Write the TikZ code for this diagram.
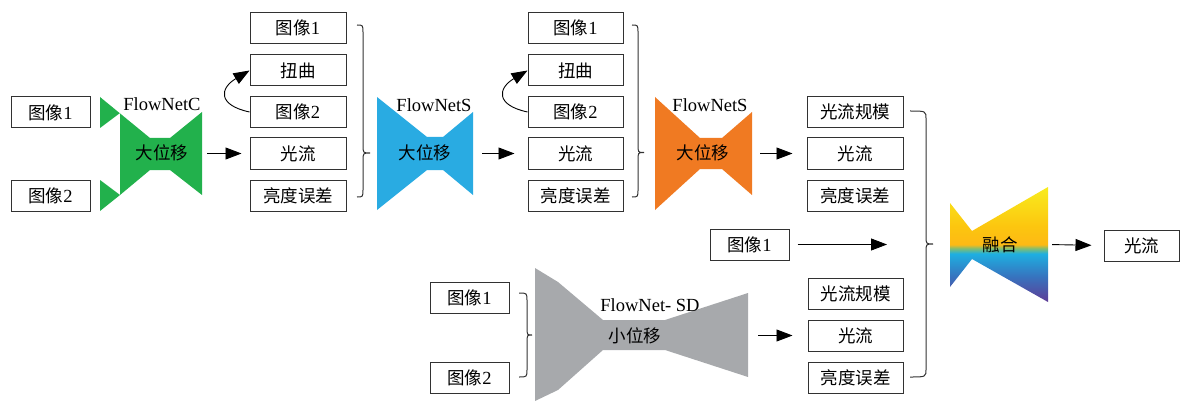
\documentclass[tikz,border=0pt]{standalone}
\usepackage{fontspec}
\setmainfont{Liberation Serif}
\newfontfamily\cjk{Noto Sans CJK SC}
\usetikzlibrary{arrows.meta}
\newcommand\zh[1]{{\cjk\fontsize{17.5}{19}\selectfont #1}}
\definecolor{cgreen}{RGB}{34,177,76}
\definecolor{cblue}{RGB}{41,171,226}
\definecolor{corange}{RGB}{240,122,34}
\definecolor{cgray}{RGB}{167,169,172}
\definecolor{boxline}{RGB}{50,50,50}
\definecolor{fpur}{RGB}{95,60,150}
\definecolor{fblu}{RGB}{55,115,190}
\definecolor{fcya}{RGB}{30,175,225}
\definecolor{fgrn}{RGB}{130,190,110}
\definecolor{fgold}{RGB}{253,185,20}
\definecolor{forg}{RGB}{252,198,15}
\definecolor{fyel}{RGB}{248,236,30}
\pgfdeclareverticalshading{fusesh}{100bp}{color(0bp)=(fpur); color(25bp)=(fpur); color(36bp)=(fblu); color(46bp)=(fcya); color(48.3bp)=(fgrn); color(50bp)=(fgold); color(58bp)=(forg); color(75bp)=(fyel); color(100bp)=(fyel)}
\newcommand\rbrc[6]{\draw[brc] (#1,#2) .. controls (#3,#2) .. (#3,#2+8) -- (#3,#5-8) .. controls (#3,#5) .. (#4,#5) .. controls (#3,#5) .. (#3,#5+8) -- (#3,#6-8) .. controls (#3,#6) .. (#1,#6);}
\tikzset{
 box/.style={draw=boxline, line width=1pt, minimum height=31pt, inner sep=0pt, font=\fontsize{18.5}{20}\selectfont},
 wbox/.style={box, minimum width=96pt},
 nbox/.style={box, minimum width=79pt},
 arr/.style={line width=0.9pt, -{Triangle[length=16pt,width=12pt]}},
 lbl/.style={inner sep=0pt, font=\fontsize{18.5}{20}\selectfont},
 brc/.style={line width=1pt, draw=boxline}
}
\begin{document}
\begin{tikzpicture}[x=1pt,y=-1pt]
\useasboundingbox (0,0) rectangle (1183,401);
% left inputs
\node[nbox] (a1) at (50.5,112.5) {\zh{图像}1};
\node[nbox] (a2) at (50.5,195.5) {\zh{图像}2};
% FlowNetC
\fill[cgreen] (100,97) -- (150,138) -- (170,138) -- (202,112) -- (202,195) -- (170,170) -- (150,170) -- (120,195) -- (100,211) -- (100,180) -- (120,195) -- (120,113) -- (100,128) -- cycle;
\node[lbl] (gC) at (162,104) {FlowNetC};
\node[lbl] (gT) at (162,153) {\zh{大位移}};
\coordinate (gR) at (202,153.5);
% column 2
\node[wbox] (b1) at (298,28) {\zh{图像}1};
\node[wbox] (b2) at (298,70.5) {\zh{扭曲}};
\node[wbox] (b3) at (298,112) {\zh{图像}2};
\node[wbox] (b4) at (298,153.5) {\zh{光流}};
\node[wbox] (b5) at (298,195.5) {\zh{亮度误差}};
\draw[arr, shorten <=5pt, shorten >=8pt] (gR) -- (b4.west);
\draw[arr] (b3.west) .. controls (217,105) and (220,88) .. (b2.west);
\rbrc{357}{25}{363}{370}{153}{197}
% FlowNetS blue
\fill[cblue] (377,97) -- (427,137) -- (443,137) -- (473,112) -- (473,195) -- (443,170) -- (427,170) -- (377,210) -- cycle;
\node[lbl] (sC) at (434,105) {FlowNetS};
\node[lbl] (sT) at (425,153) {\zh{大位移}};
\coordinate (sR) at (473,153.5);
% column 3
\node[wbox, minimum width=95pt] (c1) at (575.5,28) {\zh{图像}1};
\node[wbox, minimum width=95pt] (c2) at (575.5,70.5) {\zh{扭曲}};
\node[wbox, minimum width=95pt] (c3) at (575.5,112) {\zh{图像}2};
\node[wbox, minimum width=95pt] (c4) at (575.5,153.5) {\zh{光流}};
\node[wbox, minimum width=95pt] (c5) at (575.5,195.5) {\zh{亮度误差}};
\draw[arr, shorten <=9pt, shorten >=13pt] (sR) -- (c4.west);
\draw[arr] (c3.west) .. controls (495,105) and (498,88) .. (c2.west);
\rbrc{632}{25}{638}{644}{152.5}{197}
% FlowNetS orange
\fill[corange] (655,97) -- (700,138) -- (722,138) -- (752,112) -- (752,195) -- (722,169) -- (700,169) -- (655,210) -- cycle;
\node[lbl] (oC) at (710,105) {FlowNetS};
\node[lbl] (oT) at (703,153) {\zh{大位移}};
\coordinate (oR) at (752,153.5);
% column 4 upper
\node[wbox] (d1) at (855,112) {\zh{光流规模}};
\node[wbox] (d2) at (855,153.5) {\zh{光流}};
\node[wbox] (d3) at (855,195.5) {\zh{亮度误差}};
\draw[arr, shorten <=8pt, shorten >=14pt] (oR) -- (d2.west);
% middle image
\node[nbox] (m1) at (749.5,244.5) {\zh{图像}1};
\coordinate (fin) at (887,244.5);
\draw[arr, shorten <=8pt] (m1.east) -- (fin);
% big brace
\rbrc{910}{111}{926}{933}{244}{377}
% fusion
\shade[shading=fusesh] (950,203) -- (972,231) -- (1048,187) -- (1048,302) -- (972,259) -- (950,287) -- cycle;
\node[lbl] (fT) at (1000,245) {\zh{融合}};
\coordinate (fR) at (1048,244.5);
\node[box, minimum width=75pt] (o1) at (1141.5,245.5) {\zh{光流}};
\draw[arr, shorten <=4pt, shorten >=12pt] (fR) -- (o1.west);
% FlowNet-SD
\fill[cgray] (535,268) -- (558,282) -- (603,320) -- (665,320) -- (748,293) -- (748,377) -- (665,350) -- (603,350) -- (558,390) -- (535,401) -- cycle;
\node[lbl] (dC) at (650,305) {FlowNet- SD};
\node[lbl] (dT) at (635,336) {\zh{小位移}};
\coordinate (dR) at (748,335.5);
\node[nbox] (g1) at (469.5,298) {\zh{图像}1};
\node[nbox] (g2) at (469.5,378) {\zh{图像}2};
\rbrc{519}{293}{527}{532}{335}{377}
% column 4 lower
\node[wbox, minimum width=95pt] (e1) at (855.5,293.5) {\zh{光流规模}};
\node[wbox, minimum width=95pt] (e2) at (855.5,335.5) {\zh{光流}};
\node[wbox, minimum width=95pt] (e3) at (855.5,377.5) {\zh{亮度误差}};
\draw[arr, shorten <=10pt, shorten >=15pt] (dR) -- (e2.west);
\end{tikzpicture}
\end{document}
